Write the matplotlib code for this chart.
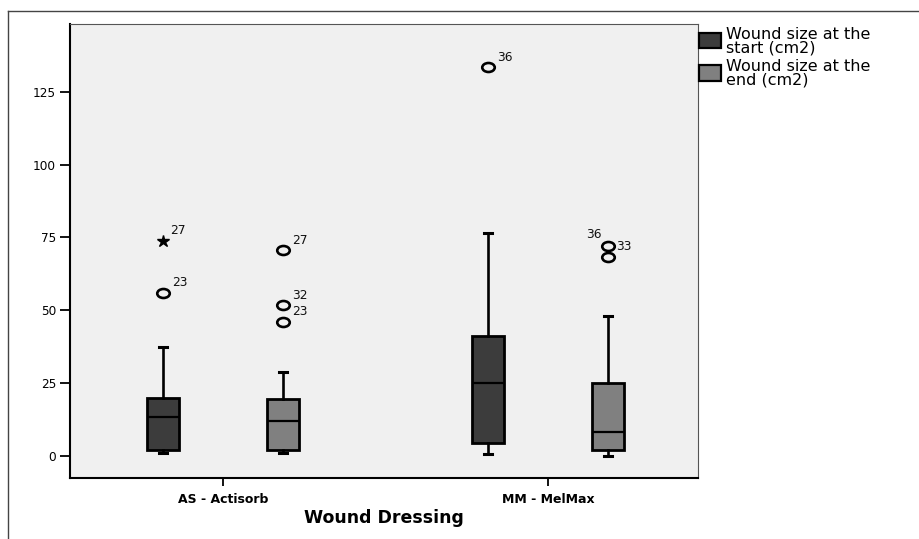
import matplotlib
matplotlib.use("Agg")
import matplotlib.pyplot as plt
from matplotlib.markers import MarkerStyle
from matplotlib.path import Path
from matplotlib.transforms import Affine2D
from matplotlib.patches import Rectangle
from matplotlib.lines import Line2D

plt.rcParams['font.family'] = ['DejaVu Sans']

# ---------------- data ----------------
categories = ['AS - Actisorb', 'MM - MelMax']
series_names = ['Wound size at the\nstart (cm2)', 'Wound size at the\nend (cm2)']
y_ticks = [0, 25, 50, 75, 100, 125]

start_whislo = [0.8, 0.6]
start_q1 = [2.0, 4.3]
start_med = [13.2, 24.9]
start_q3 = [19.9, 41.1]
start_whishi = [37.3, 76.6]

end_whislo = [1.0, 0.0]
end_q1 = [2.0, 2.0]
end_med = [11.8, 8.0]
end_q3 = [19.5, 24.9]
end_whishi = [28.8, 48.1]

start_outliers = [[55.9], [133.4]]
start_outlier_ids = [['23'], ['36']]
start_extremes = [[73.8], []]
start_extreme_ids = [['27'], []]

end_outliers = [[70.5, 51.6, 46.0], [72.1, 68.3]]
end_outlier_ids = [['27', '32', '23'], ['33', '36']]
end_extremes = [[], []]
end_extreme_ids = [[], []]

colors = ['#3c3c3c', '#808080']
bg = '#f0f0f0'

# ---------------- figure ----------------
W, H = 919, 539
fig = plt.figure(figsize=(W / 100, H / 100), dpi=100)
fig.patch.set_facecolor('white')
ax_l, ax_r, ax_t, ax_b = 70, 698, 24, 478
ax = fig.add_axes([ax_l / W, 1 - ax_b / H, (ax_r - ax_l) / W, (ax_b - ax_t) / H])
ax.set_facecolor(bg)

offset = 0.185
box_w = 0.1
cap_w = 0.024
lab_fs = 8.8

ell = Path.unit_circle().transformed(Affine2D().scale(1.0, 0.72))
ell_marker = MarkerStyle(ell)

groups = [
    (start_whislo, start_q1, start_med, start_q3, start_whishi,
     start_outliers, start_outlier_ids, start_extremes, start_extreme_ids, -offset, colors[0]),
    (end_whislo, end_q1, end_med, end_q3, end_whishi,
     end_outliers, end_outlier_ids, end_extremes, end_extreme_ids, offset, colors[1]),
]

for (wlo, q1, med, q3, whi, outl, outl_ids, ext, ext_ids, off, col) in groups:
    stats = []
    for i in range(len(categories)):
        stats.append(dict(whislo=wlo[i], q1=q1[i], med=med[i], q3=q3[i],
                          whishi=whi[i], fliers=outl[i]))
    pos = [i + off for i in range(len(categories))]
    ax.bxp(stats, positions=pos, widths=box_w, capwidths=cap_w, patch_artist=True,
           showfliers=True, manage_ticks=False,
           boxprops=dict(facecolor=col, edgecolor='black', linewidth=2.0),
           medianprops=dict(color='black', linewidth=1.6),
           whiskerprops=dict(color='black', linewidth=1.9),
           capprops=dict(color='black', linewidth=2.2),
           flierprops=dict(marker=ell_marker, markersize=9.0, markerfacecolor='none',
                           markeredgecolor='black', markeredgewidth=1.9, linestyle='none'))
    for i in range(len(categories)):
        x = i + off
        for v in ext[i]:
            ax.plot([x], [v], marker='*', markersize=9, color='black', linestyle='none')
        for v, lab in zip(ext[i], ext_ids[i]):
            ax.annotate(lab, (x, v), xytext=(7, 10), textcoords='offset pixels',
                        ha='left', va='center', fontsize=lab_fs, color='#111111')
        for k, (v, lab) in enumerate(zip(outl[i], outl_ids[i])):
            if i == 1 and off > 0 and k == 1:
                # label drawn above-left of the pair
                ax.annotate(lab, (x, v), xytext=(-7, 22), textcoords='offset pixels',
                            ha='right', va='center', fontsize=lab_fs, color='#111111')
            elif i == 1 and off > 0 and k == 0:
                ax.annotate(lab, (x, v), xytext=(8, -1), textcoords='offset pixels',
                            ha='left', va='center', fontsize=lab_fs, color='#111111')
            else:
                ax.annotate(lab, (x, v), xytext=(9, 10), textcoords='offset pixels',
                            ha='left', va='center', fontsize=lab_fs, color='#111111')

ax.set_xlim(-0.4708, 1.4615)
ax.set_ylim(-7.66, 148.25)
ax.set_yticks(y_ticks)
ax.set_yticklabels([str(t) for t in y_ticks], fontsize=8.7)
ax.set_xticks(range(len(categories)))
ax.set_xticklabels(categories, fontsize=9, fontweight='bold')
ax.tick_params(axis='y', direction='out', length=7, width=1.3, pad=3)
ax.tick_params(axis='x', direction='out', length=6, width=1.3, pad=5)

ax.set_xlabel('Wound Dressing', fontsize=12.5, fontweight='bold')
ax.xaxis.set_label_coords(0.5, (ax_b - 518) / (ax_b - ax_t))
ax.xaxis.label.set_va('center')

for s in ['left', 'bottom']:
    ax.spines[s].set_color('black')
    ax.spines[s].set_linewidth(1.5)
for s in ['top', 'right']:
    ax.spines[s].set_color('#555555')
    ax.spines[s].set_linewidth(0.8)

# outer frame
fig.add_artist(Line2D([8 / W, 8 / W], [0, 1 - 11 / H], transform=fig.transFigure,
                      color='#444444', linewidth=1.0))
fig.add_artist(Line2D([8 / W, 1], [1 - 11 / H, 1 - 11 / H], transform=fig.transFigure,
                      color='#444444', linewidth=1.0))

# legend
leg_boxes = [(33.3, 48.3), (65.5, 80.5)]
leg_text_y = [41, 73.5]
for (y0, y1), ty, name, col in zip(leg_boxes, leg_text_y, series_names, colors):
    fig.add_artist(Rectangle((699 / W, 1 - y1 / H), 22 / W, (y1 - y0) / H,
                             transform=fig.transFigure, facecolor=col,
                             edgecolor='black', linewidth=1.6))
    fig.text(726 / W, 1 - ty / H, name, fontsize=11.5, ha='left', va='center',
             linespacing=0.9, color='black')

fig.savefig('out.png', dpi=100, facecolor='white')
